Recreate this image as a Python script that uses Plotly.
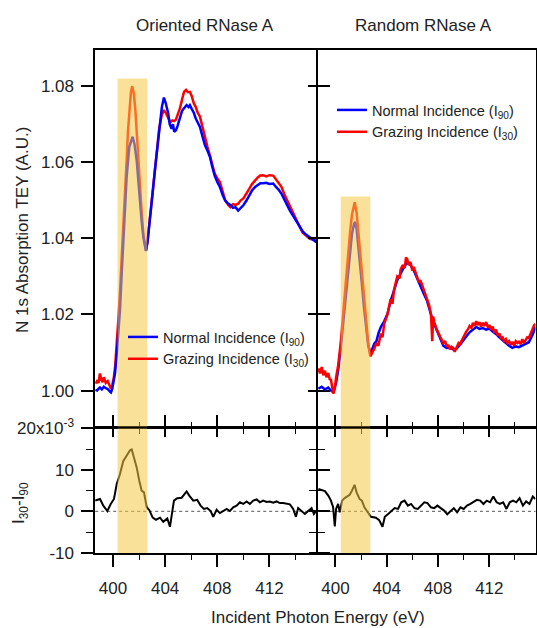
import plotly.graph_objects as go

# ---------------- data ----------------
# Oriented RNase A, top panel
ori_blue_e = [398.65, 398.78, 398.9, 399.0, 399.15, 399.3, 399.45, 399.6, 399.75, 399.85, 399.95, 400.05, 400.16, 400.3, 400.42, 400.54, 400.66, 400.79, 400.92, 401.05, 401.25, 401.4, 401.51, 401.65, 401.82, 401.95, 402.07, 402.2, 402.33, 402.45, 402.53, 402.65, 402.84, 403.03, 403.22, 403.4, 403.55, 403.75, 403.91, 404.05, 404.24, 404.35, 404.5, 404.6, 404.7, 404.83, 404.95, 405.14, 405.3, 405.45, 405.65, 405.8, 405.9, 406.03, 406.2, 406.35, 406.54, 406.67, 406.85, 407.05, 407.25, 407.44, 407.6, 407.8, 408.0, 408.2, 408.4, 408.6, 408.84, 409.0, 409.2, 409.4, 409.6, 409.8, 410.0, 410.25, 410.45, 410.65, 410.9, 411.1, 411.3, 411.52, 411.75, 412.0, 412.29, 412.5, 412.7, 412.93, 413.15, 413.35, 413.57, 413.8, 414.05, 414.33, 414.55, 414.8, 415.1, 415.35, 415.6]
ori_blue_v = [1.0002, 1.0000, 1.0005, 1.0008, 1.0003, 1.0010, 1.0006, 1.0004, 0.9998, 0.9995, 1.0005, 1.0020, 1.0045, 1.0100, 1.0160, 1.0210, 1.0300, 1.0387, 1.0480, 1.0561, 1.0640, 1.0660, 1.0667, 1.0648, 1.0605, 1.0550, 1.0492, 1.0445, 1.0403, 1.0375, 1.0367, 1.0390, 1.0447, 1.0515, 1.0579, 1.0640, 1.0693, 1.0745, 1.0770, 1.0755, 1.0728, 1.0700, 1.0688, 1.0700, 1.0680, 1.0684, 1.0695, 1.0715, 1.0735, 1.0742, 1.0750, 1.0745, 1.0750, 1.0741, 1.0730, 1.0715, 1.0702, 1.0693, 1.0670, 1.0645, 1.0630, 1.0614, 1.0590, 1.0565, 1.0548, 1.0535, 1.0515, 1.0500, 1.0491, 1.0488, 1.0480, 1.0482, 1.0473, 1.0480, 1.0487, 1.0500, 1.0512, 1.0525, 1.0535, 1.0540, 1.0545, 1.0545, 1.0546, 1.0543, 1.0544, 1.0535, 1.0528, 1.0517, 1.0500, 1.0488, 1.0473, 1.0460, 1.0445, 1.0430, 1.0418, 1.0410, 1.0403, 1.0396, 1.0390]

ori_red_e = [398.65, 398.78, 398.9, 399.0, 399.1, 399.2, 399.3, 399.45, 399.6, 399.75, 399.85, 399.95, 400.05, 400.16, 400.3, 400.42, 400.54, 400.66, 400.79, 400.92, 401.05, 401.15, 401.25, 401.38, 401.48, 401.6, 401.72, 401.85, 401.95, 402.07, 402.2, 402.33, 402.45, 402.53, 402.65, 402.84, 403.03, 403.22, 403.4, 403.55, 403.75, 403.91, 404.05, 404.24, 404.4, 404.55, 404.7, 404.83, 405.0, 405.14, 405.3, 405.45, 405.6, 405.75, 405.9, 406.03, 406.2, 406.35, 406.5, 406.67, 406.85, 407.05, 407.25, 407.44, 407.6, 407.8, 408.0, 408.2, 408.4, 408.6, 408.84, 409.0, 409.2, 409.4, 409.6, 409.8, 410.0, 410.25, 410.45, 410.65, 410.9, 411.1, 411.3, 411.52, 411.75, 412.0, 412.29, 412.5, 412.7, 412.93, 413.15, 413.35, 413.57, 413.8, 414.05, 414.33, 414.55, 414.8, 415.1, 415.35, 415.6]
ori_red_v = [1.0018, 1.0025, 1.0020, 1.0045, 1.0030, 1.0022, 1.0035, 1.0020, 1.0025, 1.0012, 1.0005, 1.0015, 1.0030, 1.0060, 1.0120, 1.0190, 1.0260, 1.0335, 1.0413, 1.0510, 1.0605, 1.0680, 1.0737, 1.0785, 1.0800, 1.0780, 1.0737, 1.0660, 1.0600, 1.0535, 1.0470, 1.0412, 1.0378, 1.0367, 1.0392, 1.0450, 1.0515, 1.0580, 1.0640, 1.0690, 1.0725, 1.0737, 1.0730, 1.0715, 1.0705, 1.0710, 1.0708, 1.0712, 1.0728, 1.0742, 1.0765, 1.0785, 1.0790, 1.0784, 1.0785, 1.0775, 1.0755, 1.0745, 1.0730, 1.0720, 1.0695, 1.0665, 1.0640, 1.0617, 1.0595, 1.0570, 1.0558, 1.0548, 1.0525, 1.0500, 1.0488, 1.0482, 1.0490, 1.0488, 1.0491, 1.0500, 1.0505, 1.0517, 1.0530, 1.0542, 1.0552, 1.0560, 1.0565, 1.0566, 1.0563, 1.0566, 1.0565, 1.0555, 1.0545, 1.0535, 1.0515, 1.0500, 1.0488, 1.0470, 1.0450, 1.0430, 1.0415, 1.0408, 1.0399, 1.0397, 1.0395]

# Random RNase A, top panel
ran_blue_e = [398.67, 398.93, 399.18, 399.44, 399.65, 399.83, 400.05, 400.21, 400.41, 400.6, 400.8, 400.98, 401.15, 401.29, 401.45, 401.54, 401.65, 401.8, 401.93, 402.06, 402.22, 402.39, 402.55, 402.72, 402.88, 403.03, 403.2, 403.35, 403.54, 403.8, 404.06, 404.3, 404.57, 404.82, 405.08, 405.35, 405.6, 405.85, 406.1, 406.35, 406.62, 406.88, 407.13, 407.35, 407.51, 407.7, 407.9, 408.15, 408.41, 408.67, 408.92, 409.18, 409.44, 409.7, 409.95, 410.2, 410.46, 410.72, 410.98, 411.23, 411.49, 411.75, 412.0, 412.26, 412.52, 412.78, 413.03, 413.29, 413.54, 413.8, 414.06, 414.31, 414.57, 414.83, 415.08, 415.35, 415.6]
ran_blue_v = [1.0005, 1.0010, 1.0003, 1.0008, 1.0000, 0.9996, 1.0020, 1.0053, 1.0110, 1.0175, 1.0250, 1.0324, 1.0380, 1.0412, 1.0438, 1.0443, 1.0425, 1.0377, 1.0330, 1.0281, 1.0220, 1.0158, 1.0120, 1.0096, 1.0108, 1.0123, 1.0130, 1.0150, 1.0167, 1.0182, 1.0202, 1.0235, 1.0263, 1.0290, 1.0307, 1.0325, 1.0337, 1.0330, 1.0316, 1.0295, 1.0272, 1.0255, 1.0237, 1.0210, 1.0193, 1.0175, 1.0158, 1.0135, 1.0118, 1.0112, 1.0114, 1.0108, 1.0110, 1.0120, 1.0132, 1.0142, 1.0153, 1.0160, 1.0167, 1.0162, 1.0164, 1.0160, 1.0163, 1.0155, 1.0149, 1.0140, 1.0132, 1.0125, 1.0118, 1.0112, 1.0116, 1.0114, 1.0119, 1.0122, 1.0127, 1.0145, 1.0167]

ran_red_e = [398.67, 398.8, 398.93, 399.05, 399.18, 399.3, 399.44, 399.55, 399.65, 399.75, 399.83, 399.95, 400.05, 400.21, 400.41, 400.6, 400.8, 400.98, 401.15, 401.29, 401.42, 401.5, 401.58, 401.65, 401.8, 401.93, 402.06, 402.22, 402.39, 402.55, 402.72, 402.88, 403.03, 403.2, 403.35, 403.54, 403.67, 403.8, 404.06, 404.3, 404.45, 404.57, 404.82, 405.0, 405.08, 405.25, 405.4, 405.5, 405.6, 405.7, 405.85, 406.0, 406.1, 406.35, 406.5, 406.62, 406.88, 407.0, 407.13, 407.3, 407.45, 407.55, 407.62, 407.7, 407.9, 408.05, 408.2, 408.41, 408.55, 408.67, 408.8, 408.92, 409.05, 409.18, 409.3, 409.44, 409.6, 409.7, 409.95, 410.1, 410.2, 410.35, 410.46, 410.6, 410.72, 410.85, 410.98, 411.1, 411.23, 411.35, 411.49, 411.6, 411.75, 411.9, 412.0, 412.15, 412.26, 412.4, 412.52, 412.65, 412.78, 412.9, 413.03, 413.15, 413.29, 413.4, 413.54, 413.7, 413.8, 413.95, 414.06, 414.2, 414.31, 414.45, 414.57, 414.7, 414.83, 414.95, 415.08, 415.2, 415.35, 415.5, 415.6]
ran_red_v = [1.0058, 1.0045, 1.0062, 1.0040, 1.0052, 1.0035, 1.0046, 1.0030, 1.0028, 1.0010, 0.9992, 1.0005, 1.0035, 1.0065, 1.0125, 1.0200, 1.0285, 1.0360, 1.0420, 1.0462, 1.0488, 1.0495, 1.0480, 1.0468, 1.0412, 1.0360, 1.0305, 1.0240, 1.0170, 1.0125, 1.0090, 1.0100, 1.0110, 1.0125, 1.0118, 1.0150, 1.0140, 1.0175, 1.0200, 1.0240, 1.0228, 1.0265, 1.0300, 1.0295, 1.0318, 1.0330, 1.0322, 1.0350, 1.0345, 1.0330, 1.0338, 1.0315, 1.0325, 1.0300, 1.0285, 1.0290, 1.0265, 1.0250, 1.0240, 1.0225, 1.0200, 1.0130, 1.0195, 1.0180, 1.0160, 1.0150, 1.0140, 1.0125, 1.0130, 1.0115, 1.0120, 1.0108, 1.0115, 1.0112, 1.0102, 1.0115, 1.0125, 1.0122, 1.0140, 1.0148, 1.0155, 1.0162, 1.0170, 1.0165, 1.0178, 1.0170, 1.0182, 1.0172, 1.0180, 1.0168, 1.0178, 1.0170, 1.0180, 1.0165, 1.0172, 1.0160, 1.0168, 1.0152, 1.0160, 1.0145, 1.0150, 1.0138, 1.0140, 1.0130, 1.0135, 1.0125, 1.0130, 1.0120, 1.0128, 1.0118, 1.0130, 1.0125, 1.0128, 1.0122, 1.0135, 1.0125, 1.0135, 1.0140, 1.0138, 1.0150, 1.0160, 1.0172, 1.0175]

# Difference I30 - I90 (x10^-3)
ori_diff_e = [398.63, 399.01, 399.26, 399.57, 399.83, 400.08, 400.29, 400.54, 400.79, 401.05, 401.31, 401.44, 401.61, 401.82, 402.02, 402.2, 402.38, 402.59, 402.79, 403.05, 403.3, 403.61, 403.86, 404.17, 404.37, 404.5, 404.68, 404.93, 405.27, 405.65, 405.85, 406.16, 406.46, 406.72, 406.98, 407.23, 407.49, 407.69, 407.95, 408.2, 408.46, 408.72, 408.97, 409.22, 409.48, 409.74, 409.99, 410.25, 410.5, 410.76, 411.02, 411.27, 411.52, 411.78, 412.03, 412.29, 412.55, 412.8, 413.05, 413.31, 413.57, 413.82, 414.03, 414.2, 414.46, 414.72, 414.97, 415.23, 415.41, 415.61]
ori_diff_v = [2.6, 3.0, 1.4, 0.1, 1.8, 3.0, 6.6, 9.0, 12.1, 13.3, 14.7, 14.9, 12.9, 10.6, 7.4, 5.0, 4.6, 1.0, 0.3, -1.5, -2.0, -1.5, -2.5, -1.7, -3.7, -1.3, 2.6, 3.2, 3.3, 4.8, 3.8, 2.6, 2.8, 1.4, 0.6, 0.8, 0.1, -1.3, 0.4, -0.4, 0.2, 0.6, 0.1, 1.0, 1.4, 2.2, 1.8, 2.4, 1.8, 2.6, 2.9, 2.2, 2.6, 2.3, 2.4, 2.1, 2.4, 2.0, 2.0, 1.8, 1.7, 0.6, -1.3, 0.8, 0.2, -0.6, 0.1, 0.8, -0.6, 0.2]

ran_diff_e = [398.67, 398.93, 399.18, 399.44, 399.65, 399.82, 399.95, 400.05, 400.21, 400.34, 400.52, 400.72, 400.93, 401.11, 401.29, 401.49, 401.65, 401.88, 402.06, 402.26, 402.52, 402.77, 403.16, 403.41, 403.67, 403.85, 404.11, 404.36, 404.62, 404.88, 405.13, 405.39, 405.65, 405.9, 406.16, 406.42, 406.67, 406.93, 407.18, 407.44, 407.7, 407.95, 408.21, 408.47, 408.72, 408.98, 409.23, 409.49, 409.75, 410.0, 410.26, 410.52, 410.77, 411.03, 411.29, 411.54, 411.8, 412.06, 412.31, 412.57, 412.82, 413.08, 413.34, 413.59, 413.85, 414.1, 414.36, 414.62, 414.87, 415.13, 415.39, 415.59]
ran_diff_v = [5.4, 5.2, 4.9, 3.8, 2.6, 1.0, -3.6, 0.6, 1.8, -0.2, 2.6, 3.2, 3.6, 4.0, 5.0, 6.4, 4.6, 3.0, 2.6, 1.0, -0.2, -1.3, -1.5, -2.1, -3.7, -1.3, -0.6, 0.2, 0.8, 0.6, 2.2, 2.6, 1.4, 1.8, 0.8, 0.6, 1.4, 2.2, 2.0, 1.0, 0.8, 1.4, 0.8, 0.2, -0.7, 0.2, 0.8, -0.2, 1.0, 0.6, 1.4, 1.8, 2.2, 2.8, 2.6, 1.8, 2.6, 2.2, 3.6, 2.2, 1.8, 2.2, 0.6, 2.2, 2.6, 2.2, 3.2, 1.4, 2.4, 1.8, 3.6, 3.0]

# highlighted energy windows (eV) and their top in the upper panels
band_ori = [400.35, 402.63]
band_ran = [400.41, 402.72]
band_top_ori = 1.082
band_top_ran = 1.051

x_ticks = [400, 404, 408, 412]
top_ticks = [1.00, 1.02, 1.04, 1.06, 1.08]
diff_ticks = [-10, 0, 10, 20]
diff_ticktext = ["-10", "0", "10", "20x10<sup>-3</sup>"]

# ---------------- figure ----------------
W, H = 537, 628
FONT = "Arial, Liberation Sans, sans-serif"
TXT = "#222222"
BLUE = "#0000ff"
RED = "#ff0000"

fig = go.Figure()

normal_name = "Normal Incidence (I<sub>90</sub>)"
grazing_name = "Grazing Incidence (I<sub>30</sub>)"

# Left (oriented): blue drawn on top
fig.add_trace(go.Scatter(x=ori_red_e, y=ori_red_v, mode="lines", line=dict(color=RED, width=2.5),
                         name=grazing_name, legend="legend", legendrank=2, xaxis="x", yaxis="y"))
fig.add_trace(go.Scatter(x=ori_blue_e, y=ori_blue_v, mode="lines", line=dict(color=BLUE, width=2.5),
                         name=normal_name, legend="legend", legendrank=1, xaxis="x", yaxis="y"))
# Right (random): red drawn on top
fig.add_trace(go.Scatter(x=ran_blue_e, y=ran_blue_v, mode="lines", line=dict(color=BLUE, width=2.5),
                         name=normal_name, legend="legend2", legendrank=1, xaxis="x2", yaxis="y2"))
fig.add_trace(go.Scatter(x=ran_red_e, y=ran_red_v, mode="lines", line=dict(color=RED, width=2.5),
                         name=grazing_name, legend="legend2", legendrank=2, xaxis="x2", yaxis="y2"))
# differences
fig.add_trace(go.Scatter(x=ori_diff_e, y=ori_diff_v, mode="lines", line=dict(color="black", width=2),
                         showlegend=False, xaxis="x3", yaxis="y3"))
fig.add_trace(go.Scatter(x=ran_diff_e, y=ran_diff_v, mode="lines", line=dict(color="black", width=2),
                         showlegend=False, xaxis="x4", yaxis="y4"))

LW = 1.6
# domains (paper fractions); right/bottom panels nudged so shared frame lines coincide
xl = [95.2 / W, 316.4 / W]
xr = [(316.4 + LW) / W, 535.5 / W]
yt = [1 - 426.7 / H, 1 - 50 / H]
yb = [1 - 553 / H, 1 - (426.7 + LW) / H]
xrange = [398.64, 415.6]

tickfont = dict(family=FONT, size=17, color=TXT)
common_x = dict(range=xrange, showline=True, linecolor="black", linewidth=LW, automargin=False,
                showgrid=False, zeroline=False, tickvals=x_ticks, tickcolor="black", tickwidth=1.6,
                ticks="outside", ticklen=8,
                minor=dict(dtick=2, tick0=400, ticks="outside", ticklen=5, tickcolor="black", tickwidth=1.4, showgrid=False),
                tickfont=tickfont)
common_y = dict(showline=True, linecolor="black", linewidth=LW, automargin=False,
                showgrid=False, zeroline=False, tickcolor="black", tickwidth=1.6, tickfont=tickfont)

fig.update_layout(
    template="none",
    width=W, height=H, margin=dict(l=0, r=0, t=0, b=0, pad=0, autoexpand=False),
    paper_bgcolor="white", plot_bgcolor="white",
    font=dict(family=FONT, size=17, color=TXT),
    xaxis=dict(common_x, domain=xl, anchor="y", showticklabels=False, mirror=True),
    xaxis2=dict(common_x, domain=xr, anchor="y2", showticklabels=False, mirror=True),
    xaxis3=dict(common_x, domain=xl, anchor="y3", showticklabels=True, mirror="ticks", ticklen=12,
                ticklabelstandoff=7),
    xaxis4=dict(common_x, domain=xr, anchor="y4", showticklabels=True, mirror="ticks", ticklen=12,
                ticklabelstandoff=7),
    yaxis=dict(common_y, domain=yt, anchor="x", range=[0.9905, 1.0895], tickvals=top_ticks, tickformat=".2f",
               ticks="outside", ticklen=12, mirror="ticks", ticklabelstandoff=4),
    yaxis2=dict(common_y, domain=yt, anchor="x2", range=[0.9905, 1.0895], tickvals=top_ticks, ticks="outside",
                ticklen=8, mirror=True, showticklabels=False),
    yaxis3=dict(common_y, domain=yb, anchor="x3", range=[-10, 20], tickvals=diff_ticks, ticktext=diff_ticktext,
                ticks="outside", ticklen=12, mirror="ticks", ticklabelstandoff=4,
                minor=dict(dtick=5, tick0=0, ticks="outside", ticklen=7, tickcolor="black", tickwidth=1.4, showgrid=False)),
    yaxis4=dict(common_y, domain=yb, anchor="x4", range=[-10, 20], tickvals=diff_ticks, ticks="outside",
                ticklen=7, mirror=True, showticklabels=False,
                minor=dict(dtick=5, tick0=0, ticks="outside", ticklen=7, tickcolor="black", tickwidth=1.4, showgrid=False)),
    legend=dict(x=123 / W, y=1 - 321 / H, xanchor="left", yanchor="top", bgcolor="rgba(0,0,0,0)",
                font=dict(family=FONT, size=14.5, color=TXT), itemwidth=30, tracegroupgap=0),
    legend2=dict(x=332 / W, y=1 - 94 / H, xanchor="left", yanchor="top", bgcolor="rgba(0,0,0,0)",
                 font=dict(family=FONT, size=14.5, color=TXT), itemwidth=30, tracegroupgap=0),
    showlegend=True,
    hovermode=False,
)

band_fill = "rgb(245,200,70)"
band_op = 0.55
shapes = [
    dict(type="rect", xref="x", yref="y", x0=band_ori[0], x1=band_ori[1], y0=0.9905, y1=band_top_ori,
         fillcolor=band_fill, opacity=band_op, line=dict(width=0), layer="above"),
    dict(type="rect", xref="x2", yref="y2", x0=band_ran[0], x1=band_ran[1], y0=0.9905, y1=band_top_ran,
         fillcolor=band_fill, opacity=band_op, line=dict(width=0), layer="above"),
    dict(type="rect", xref="x3", yref="y3", x0=band_ori[0], x1=band_ori[1], y0=-10, y1=20,
         fillcolor=band_fill, opacity=band_op, line=dict(width=0), layer="above"),
    dict(type="rect", xref="x4", yref="y4", x0=band_ran[0], x1=band_ran[1], y0=-10, y1=20,
         fillcolor=band_fill, opacity=band_op, line=dict(width=0), layer="above"),
    dict(type="line", xref="x3 domain", yref="y3", x0=0, x1=1, y0=0, y1=0,
         line=dict(color="#777777", width=1.2, dash="dot"), layer="below"),
    dict(type="line", xref="x4 domain", yref="y4", x0=0, x1=1, y0=0, y1=0,
         line=dict(color="#777777", width=1.2, dash="dot"), layer="below"),
]
fig.update_layout(shapes=shapes)

ann = [
    dict(text="Oriented RNase A", x=205 / W, y=1 - 26 / H),
    dict(text="Random RNase A", x=423 / W, y=1 - 26 / H),
    dict(text="Incident Photon Energy (eV)", x=318 / W, y=1 - 617 / H),
    dict(text="N 1s Absorption TEY (A.U.)", x=22 / W, y=1 - 230 / H, textangle=-90),
    dict(text="I<sub>30</sub>-I<sub>90</sub>", x=20 / W, y=1 - 503 / H, textangle=-90),
]
for a in ann:
    a.update(xref="paper", yref="paper", showarrow=False, xanchor="center", yanchor="middle",
             font=dict(family=FONT, size=17, color=TXT))
fig.update_layout(annotations=ann)

fig.write_html("out.html", config={"displayModeBar": False},
               post_script="document.body.style.margin='0';document.body.style.overflow='hidden';")
